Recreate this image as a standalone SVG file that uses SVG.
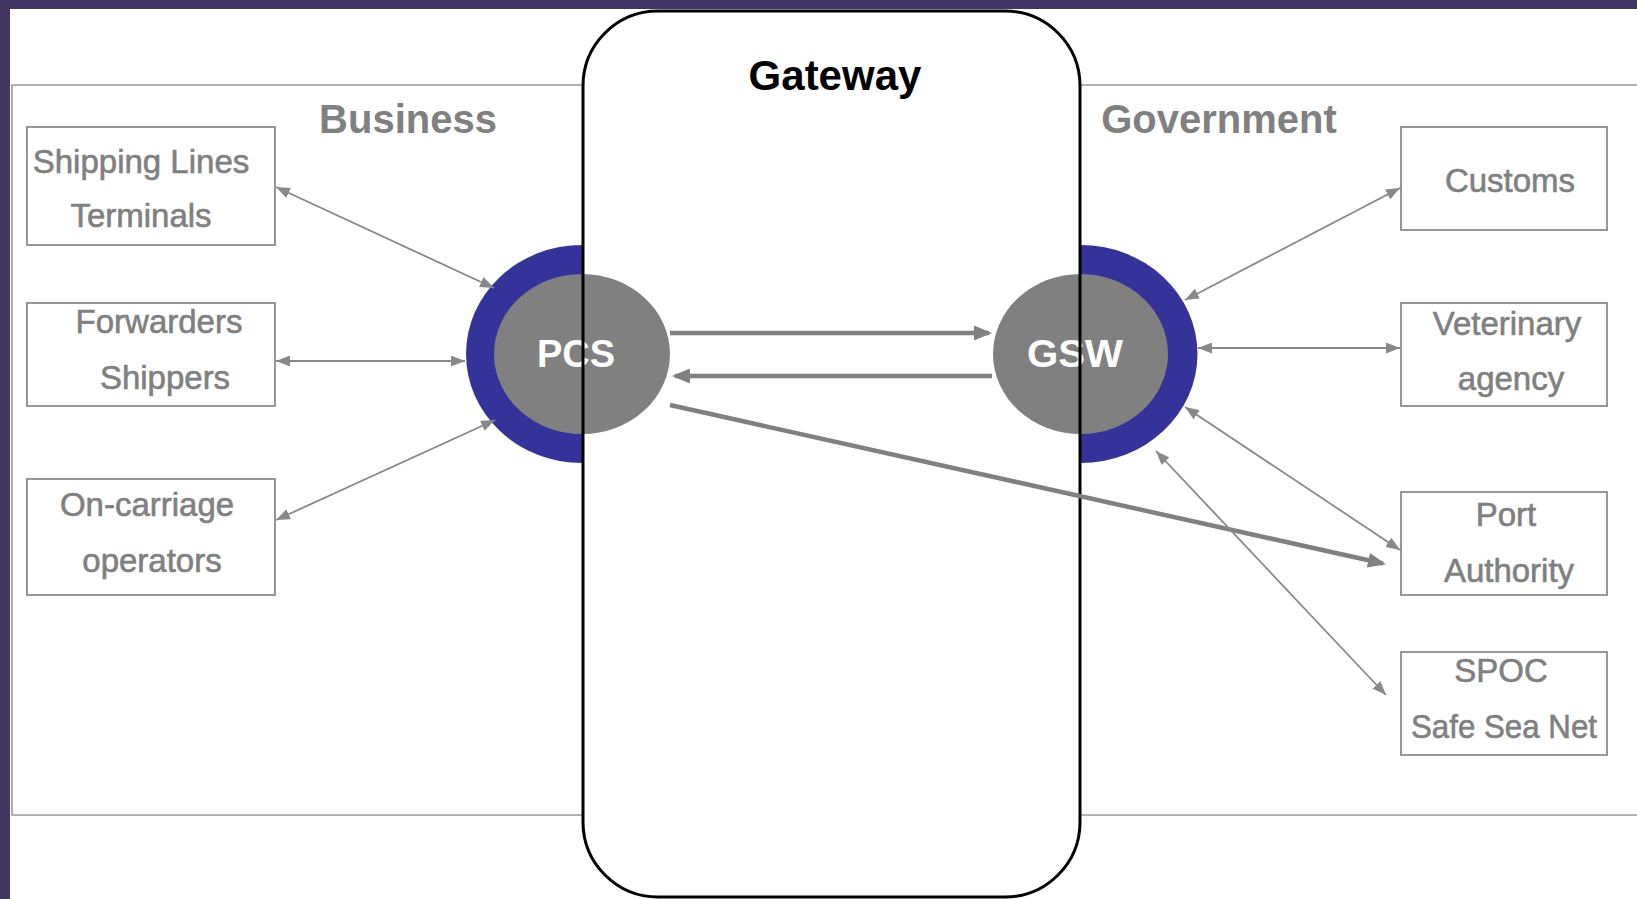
<svg xmlns="http://www.w3.org/2000/svg" width="1637" height="899" viewBox="0 0 1637 899">
<style>
.frame{fill:none;stroke:#999999;stroke-width:1.6}
.box{fill:#ffffff;stroke:#8c8c8c;stroke-width:1.8}
.lbl{font-family:"Liberation Sans",Arial,sans-serif;font-size:33px;fill:#808080;stroke:#808080;stroke-width:0.6;text-anchor:middle}
.hdr{font-family:"Liberation Sans",Arial,sans-serif;font-size:40px;font-weight:bold;fill:#808080;text-anchor:middle}
.hub{font-family:"Liberation Sans",Arial,sans-serif;font-size:38px;font-weight:bold;fill:#ffffff;text-anchor:middle}
.thin{fill:none;stroke:#888888;stroke-width:1.8}
.thick{fill:none;stroke:#808080;stroke-width:4.5}
</style>
<defs>
<marker id="ah" markerUnits="userSpaceOnUse" markerWidth="14" markerHeight="11" refX="14" refY="5.5" orient="auto-start-reverse" viewBox="0 0 14 11">
<path d="M0,0 L14,5.5 L0,11 z" fill="#888888"/>
</marker>
<marker id="ahb" markerUnits="userSpaceOnUse" markerWidth="18" markerHeight="15" refX="15" refY="7.5" orient="auto" viewBox="0 0 18 15">
<path d="M0,0 L18,7.5 L0,15 z" fill="#808080"/>
</marker>
<clipPath id="clipL"><rect x="0" y="0" width="583" height="899"/></clipPath>
<clipPath id="clipR"><rect x="1080" y="0" width="557" height="899"/></clipPath>
</defs>

<rect x="0" y="0" width="1637" height="899" fill="#403764"/>
<rect x="10" y="9" width="1627" height="890" fill="#ffffff"/>

<g id="frame">
<path class="frame" d="M583,85 L12,85 L12,815 L583,815"/>
<path class="frame" d="M1080,85 L1637,85 M1080,815 L1637,815"/>
</g>

<g id="business-label"><text class="hdr" x="408" y="133">Business</text></g>
<g id="government-label"><text class="hdr" x="1219" y="133">Government</text></g>

<g id="shipping-lines">
<rect class="box" x="27" y="127" width="248" height="118"/>
<text class="lbl" x="141" y="173">Shipping Lines</text>
<text class="lbl" x="141" y="227">Terminals</text>
</g>
<g id="forwarders">
<rect class="box" x="27" y="303" width="248" height="103"/>
<text class="lbl" x="159" y="333">Forwarders</text>
<text class="lbl" x="165" y="389">Shippers</text>
</g>
<g id="on-carriage">
<rect class="box" x="27" y="479" width="248" height="116"/>
<text class="lbl" x="147" y="516">On-carriage</text>
<text class="lbl" x="152" y="572">operators</text>
</g>

<g id="customs">
<rect class="box" x="1401" y="127" width="206" height="103"/>
<text class="lbl" x="1510" y="192">Customs</text>
</g>
<g id="veterinary">
<rect class="box" x="1401" y="303" width="206" height="103"/>
<text class="lbl" x="1507" y="335">Veterinary</text>
<text class="lbl" x="1511" y="390">agency</text>
</g>
<g id="port-authority">
<rect class="box" x="1401" y="492" width="206" height="103"/>
<text class="lbl" x="1506" y="526">Port</text>
<text class="lbl" x="1509" y="582">Authority</text>
</g>
<g id="spoc">
<rect class="box" x="1401" y="652" width="206" height="103"/>
<text class="lbl" x="1501" y="682">SPOC</text>
<text class="lbl" x="1504" y="738" textLength="186" lengthAdjust="spacingAndGlyphs">Safe Sea Net</text>
</g>

<g id="pcs">
<ellipse cx="582" cy="354" rx="116" ry="109" fill="#333399" clip-path="url(#clipL)"/>
<ellipse cx="582" cy="354" rx="88" ry="80" fill="#808080"/>
<text class="hub" x="576" y="367">PCS</text>
</g>
<g id="gsw">
<ellipse cx="1080.5" cy="354" rx="117" ry="109" fill="#333399" clip-path="url(#clipR)"/>
<ellipse cx="1080.5" cy="354" rx="87.5" ry="80" fill="#808080"/>
<text class="hub" x="1075" y="367" textLength="96" lengthAdjust="spacingAndGlyphs">GSW</text>
</g>

<g id="gateway">
<rect x="583" y="11" width="497" height="886" rx="75" ry="75" fill="none" stroke="#000000" stroke-width="3"/>
<text x="835" y="90" font-family="'Liberation Sans',Arial,sans-serif" font-size="42" font-weight="bold" fill="#000000" text-anchor="middle">Gateway</text>
</g>

<g id="connectors">
<path class="thick" d="M670,333 L989,333" marker-end="url(#ahb)"/>
<path class="thick" d="M992,376 L675,376" marker-end="url(#ahb)"/>
<path class="thick" d="M670,405 L1383,563.5" marker-end="url(#ahb)"/>
<path class="thin" d="M276,187 L494,288" marker-start="url(#ah)" marker-end="url(#ah)"/>
<path class="thin" d="M276,361 L465,361" marker-start="url(#ah)" marker-end="url(#ah)"/>
<path class="thin" d="M276,520 L495,420" marker-start="url(#ah)" marker-end="url(#ah)"/>
<path class="thin" d="M1400,188 L1185,300" marker-start="url(#ah)" marker-end="url(#ah)"/>
<path class="thin" d="M1400,348 L1198,348" marker-start="url(#ah)" marker-end="url(#ah)"/>
<path class="thin" d="M1400,550 L1185,407" marker-start="url(#ah)" marker-end="url(#ah)"/>
<path class="thin" d="M1386,695 L1156,451" marker-start="url(#ah)" marker-end="url(#ah)"/>
</g>
</svg>
